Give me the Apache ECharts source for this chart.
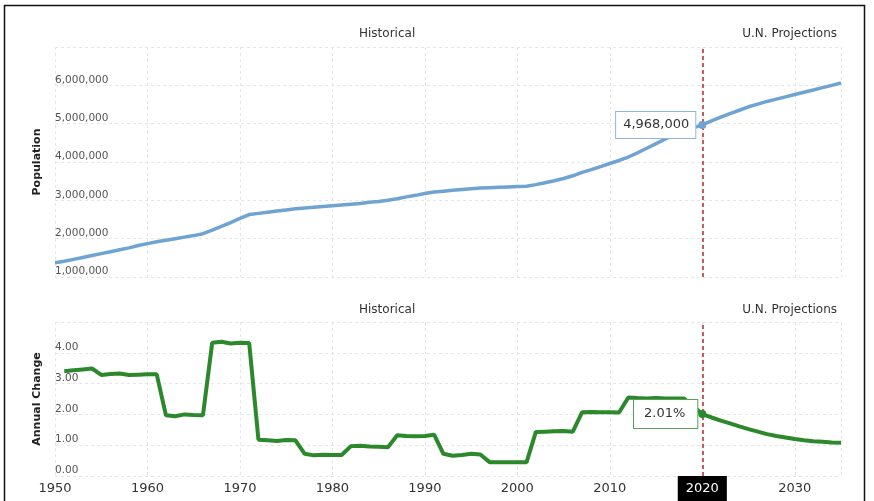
<!DOCTYPE html>
<html>
<head>
<meta charset="utf-8">
<script src="https://cdn.jsdelivr.net/npm/echarts@6/dist/echarts.min.js"></script>
<style>
html,body{margin:0;padding:0;background:#fff;}
#c{width:874px;height:501px;}
</style>
</head>
<body>
<div id="c"></div>
<script>
var years = [1950,1951,1952,1953,1954,1955,1956,1957,1958,1959,
1960,1961,1962,1963,1964,1965,1966,1967,1968,1969,
1970,1971,1972,1973,1974,1975,1976,1977,1978,1979,
1980,1981,1982,1983,1984,1985,1986,1987,1988,1989,
1990,1991,1992,1993,1994,1995,1996,1997,1998,1999,
2000,2001,2002,2003,2004,2005,2006,2007,2008,2009,
2010,2011,2012,2013,2014,2015,2016,2017,2018,2019,
2020,2021,2022,2023,2024,2025,2026,2027,2028,2029,
2030,2031,2032,2033,2034,2035];

var population = [1370000,1410000,1460000,1510000,1560000,1610000,1660000,1710000,1760000,1820000,
1870000,1920000,1960000,2000000,2040000,2080000,2130000,2220000,2320000,2420000,
2530000,2630000,2660000,2690000,2720000,2750000,2780000,2800000,2820000,2840000,
2860000,2880000,2900000,2920000,2950000,2970000,3000000,3040000,3090000,3130000,
3180000,3220000,3240000,3260000,3280000,3300000,3320000,3330000,3340000,3350000,
3360000,3370000,3410000,3460000,3510000,3570000,3640000,3730000,3800000,3880000,
3960000,4040000,4130000,4240000,4360000,4480000,4600000,4710000,4810000,4890000,
4968000,5070000,5170000,5260000,5350000,5440000,5510000,5580000,5640000,5700000,
5760000,5820000,5880000,5940000,6000000,6060000];

var annualChange = [null,3.40,3.43,3.46,3.49,3.28,3.31,3.33,3.28,3.29,
3.30,3.30,1.97,1.94,2.00,1.98,1.97,4.33,4.36,4.30,
4.33,4.32,1.18,1.16,1.14,1.17,1.16,0.72,0.67,0.69,
0.68,0.68,0.97,0.98,0.96,0.95,0.93,1.32,1.30,1.29,
1.30,1.34,0.72,0.66,0.68,0.72,0.70,0.45,0.45,0.45,
0.45,0.45,1.43,1.44,1.45,1.46,1.44,2.07,2.08,2.07,
2.07,2.06,2.55,2.53,2.52,2.53,2.52,2.52,2.52,2.26,
2.01,1.90,1.80,1.71,1.61,1.52,1.44,1.36,1.30,1.25,
1.20,1.16,1.13,1.11,1.09,1.08];

var popTicks = ['1,000,000','2,000,000','3,000,000','4,000,000','5,000,000','6,000,000'];
var changeTicks = ['0.00','1.00','2.00','3.00','4.00'];
var highlightYear = 2020;
var sectionLabels = ['Historical','U.N. Projections'];

var FONT = 'DejaVu Sans';
function fmtThousands(v){ return String(Math.round(v)).replace(/\B(?=(\d{3})+(?!\d))/g, ','); }

var popData = years.map(function(y,i){
  if (y === highlightYear) {
    return {value:[y,population[i]], symbol:'circle', symbolSize:8,
      itemStyle:{color:'#6fa3d2'},
      label:{show:true, position:'left', distance:3,
        formatter:function(p){return fmtThousands(p.value[1]);},
        backgroundColor:'#fff', borderColor:'#8fb6d9', borderWidth:1,
        padding:[7,6,6,7], fontSize:13, color:'#333', fontFamily:FONT}};
  }
  return {value:[y,population[i]], symbolSize:0, label:{show:false}};
});
var chgData = years.map(function(y,i){
  if (y === highlightYear) {
    return {value:[y,annualChange[i]], symbol:'circle', symbolSize:8,
      itemStyle:{color:'#2b882b'},
      label:{show:true, position:'left', distance:1,
        formatter:function(p){return p.value[1].toFixed(2)+'%';},
        backgroundColor:'#fff', borderColor:'#5aa05a', borderWidth:1,
        padding:[8,12,7,10], fontSize:13, color:'#333', fontFamily:FONT}};
  }
  return {value:[y,annualChange[i]], symbolSize:0, label:{show:false}};
});

var gridLine = {show:true, lineStyle:{color:'#e6e6e6', type:[3,3], width:1}};
var markLineRed = {silent:true, symbol:['none','none'], label:{show:false},
  lineStyle:{color:'#b22a2a', type:[4,3], width:1.5},
  data:[{xAxis:highlightYear}]};

var chart = echarts.init(document.getElementById('c'));
chart.setOption({
  animation:false,
  backgroundColor:'#fff',
  grid:[
    {left:55, right:33, top:47, height:230},
    {left:55, right:33, top:322, height:156}
  ],
  xAxis:[
    {gridIndex:0, type:'value', min:1950, max:2035, interval:10,
      axisLine:{show:false}, axisTick:{show:false}, axisLabel:{show:false}, splitLine:gridLine},
    {gridIndex:1, type:'value', min:1950, max:2035, interval:10,
      axisLine:{show:false}, axisTick:{show:false}, splitLine:gridLine,
      axisLabel:{margin:0, showMaxLabel:false, fontFamily:FONT, fontSize:13, color:'#333',
        formatter:function(v){ if (v===2035) return ''; return v===highlightYear ? '{hl|'+v+'}' : '{n|'+v+'}'; },
        rich:{
          n:{padding:[6,8,6,8], fontFamily:FONT, fontSize:13, color:'#333'},
          hl:{padding:[6,8,6,8], fontFamily:FONT, fontSize:13, color:'#fff', backgroundColor:'#000'}
        }}}
  ],
  yAxis:[
    {gridIndex:0, type:'value', min:1000000, max:7000000, interval:1000000,
      name:'Population', nameLocation:'middle', nameGap:12, nameRotate:90,
      nameTextStyle:{fontFamily:FONT, fontSize:11, fontWeight:'bold', color:'#222'},
      axisLine:{show:false}, axisTick:{show:false}, splitLine:gridLine,
      axisLabel:{inside:true, margin:0, align:'left', verticalAlign:'bottom', showMaxLabel:false,
        fontFamily:FONT, fontSize:10.5, color:'#555',
        formatter:function(v){ var i = Math.round(v/1000000)-1; return popTicks[i] || ''; }}},
    {gridIndex:1, type:'value', min:0, max:5, interval:1,
      name:'Annual Change', nameLocation:'middle', nameGap:12, nameRotate:90,
      nameTextStyle:{fontFamily:FONT, fontSize:11, fontWeight:'bold', color:'#222'},
      axisLine:{show:false}, axisTick:{show:false}, splitLine:gridLine,
      axisLabel:{inside:true, margin:0, align:'left', verticalAlign:'bottom', showMaxLabel:false,
        fontFamily:FONT, fontSize:10.5, color:'#555',
        formatter:function(v){ return changeTicks[Math.round(v)] || ''; }}}
  ],
  graphic:[
    {type:'rect', z:100, silent:true,
      shape:{x:4.5, y:5.5, width:860, height:520}, style:{fill:'none', stroke:'#111', lineWidth:1.5}},
    {type:'text', left:359, top:28, style:{text:sectionLabels[0], font:'12px "DejaVu Sans"', fill:'#333'}},
    {type:'text', right:37, top:28, style:{text:sectionLabels[1], font:'12px "DejaVu Sans"', fill:'#333'}},
    {type:'text', left:359, top:304, style:{text:sectionLabels[0], font:'12px "DejaVu Sans"', fill:'#333'}},
    {type:'text', right:37, top:304, style:{text:sectionLabels[1], font:'12px "DejaVu Sans"', fill:'#333'}}
  ],
  series:[
    {type:'line', xAxisIndex:0, yAxisIndex:0, data:popData, showSymbol:true, symbol:'circle',
      lineStyle:{color:'#6fa3d2', width:3.5}, itemStyle:{color:'#6fa3d2'}, z:5,
      labelLayout:{hideOverlap:false},
      markLine:markLineRed},
    {type:'line', xAxisIndex:1, yAxisIndex:1, data:chgData, showSymbol:true, symbol:'circle',
      connectNulls:false,
      lineStyle:{color:'#2b882b', width:4}, itemStyle:{color:'#2b882b'}, z:5,
      labelLayout:{hideOverlap:false},
      markLine:markLineRed}
  ]
});
</script>
</body>
</html>
